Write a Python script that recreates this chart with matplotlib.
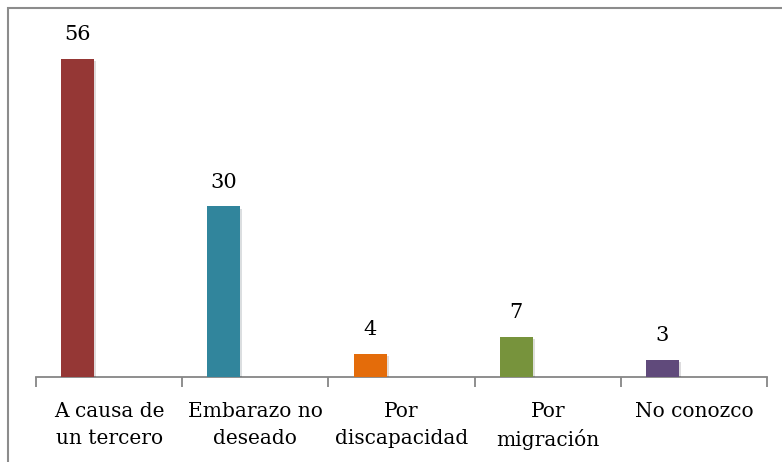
import numpy as np
import matplotlib.pyplot as plt
from matplotlib.patches import Rectangle
import matplotlib.patheffects as pe

# data
categories = ['A causa de\nun tercero', 'Embarazo no\ndeseado', 'Por\ndiscapacidad',
              'Por\nmigración', 'No conozco']
values = [56, 30, 4, 7, 3]
colors = ['#953735', '#31859C', '#E46C0A', '#77933C', '#604A7B']

plt.rcParams['font.family'] = ['DejaVu Serif']

fig = plt.figure(figsize=(7.82, 4.62), dpi=100)
ax = fig.add_axes([36/782, 1 - 377/462, 731/782, 341/462])

# outer chart frame (only left and top visible in the original)
fig.patches.append(Rectangle((8/782, -0.05), 1.1, 1 - 8/462 + 0.05,
                             transform=fig.transFigure, fill=False,
                             edgecolor='#8c8c8c', linewidth=1.5))

x = np.arange(len(categories))
offset = 0.215  # bars sit left of the category centre
width = 0.225
bars = ax.bar(x - offset, values, width=width, color=colors, zorder=3,
              path_effects=[pe.SimplePatchShadow(offset=(1.5, -1.5), alpha=0.15), pe.Normal()])

for xi, v in zip(x, values):
    ax.text(xi - offset, v + 2.6, str(v), ha='center', va='bottom', fontsize=15)

ax.set_xlim(-0.5, len(categories) - 0.5)
ax.set_ylim(0, 60)
ax.set_yticks([])
for s in ['top', 'right', 'left']:
    ax.spines[s].set_visible(False)
ax.spines['bottom'].set_color('#868686')
ax.spines['bottom'].set_linewidth(1.3)

ax.set_xticks(np.arange(len(categories) + 1) - 0.5)
ax.set_xticklabels([])
ax.tick_params(axis='x', length=7, width=1.3, color='#868686')
ax.set_xticks(x, minor=True)
ax.set_xticklabels(categories, minor=True, fontsize=14.5, linespacing=1.5)
ax.tick_params(axis='x', which='minor', length=0, pad=18)

fig.savefig('out.png', dpi=100)
